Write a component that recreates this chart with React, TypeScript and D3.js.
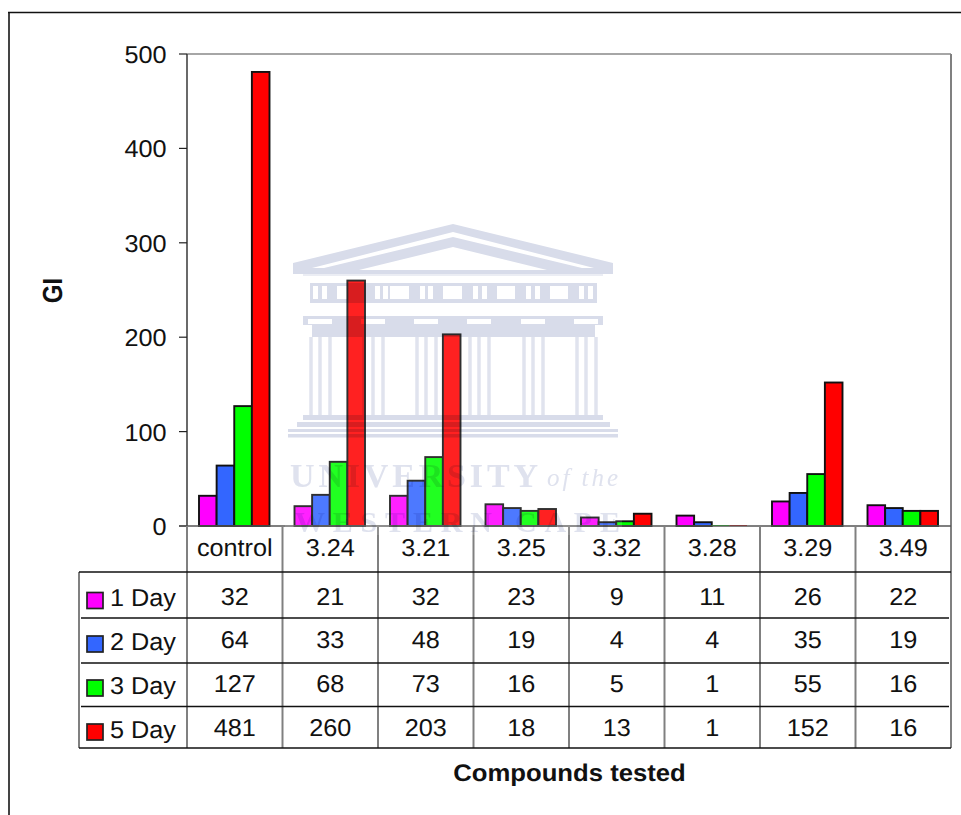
import React from "react";
import * as d3 from "d3";

const categories = ["control", "3.24", "3.21", "3.25", "3.32", "3.28", "3.29", "3.49"];
const seriesNames = ["1 Day", "2 Day", "3 Day", "5 Day"];
const seriesColors = ["#FF00FF", "#3366FF", "#00FF00", "#FF0000"];
const day1 = [32, 21, 32, 23, 9, 11, 26, 22];
const day2 = [64, 33, 48, 19, 4, 4, 35, 19];
const day3 = [127, 68, 73, 16, 5, 1, 55, 16];
const day5 = [481, 260, 203, 18, 13, 1, 152, 16];
const seriesValues = [day1, day2, day3, day5];
const yTicks = [0, 100, 200, 300, 400, 500];

const FONT = "'Liberation Sans', Arial, sans-serif";
const L = 187, R = 951, T = 54, B = 526;
const rowLines = [572, 618, 663, 706.5, 748];
const rowBase = [604.5, 648, 692, 736];
const legendBase = [606, 650, 694, 738];
const swatchTop = [592.5, 636, 680, 724];

const x0 = d3.scaleBand<string>().domain(categories).range([L, R]);
const x1 = d3.scaleBand<string>().domain(seriesNames).range([12, 82.5]);
const y = d3.scaleLinear().domain([0, 500]).range([B, T]);

const WM = "#d8dcea";
const WM_TEXT = "#dfe2ee";

function T2({ x, y: yy, children, anchor = "middle", size = 24.5, sx = 1.03, weight }: any) {
  return (
    <text
      transform={`translate(${x},${yy}) scale(${sx},1)`}
      textAnchor={anchor}
      fontFamily={FONT}
      fontSize={size}
      fontWeight={weight}
      fill="#111"
      style={{ textRendering: "geometricPrecision" }}
    >
      {children}
    </text>
  );
}

function Watermark() {
  const frieze: [number, number][] = [
    [313, 5], [322, 5], [337, 10], [375, 5], [383, 5], [390, 19], [420, 5], [428, 5],
    [443, 19], [473, 5], [482, 5], [497, 18], [526, 5], [535, 5], [550, 18], [579, 5], [588, 5],
  ];
  const columns = [309, 362, 415, 468, 522, 575];
  return (
    <g>
      <rect x={285} y={222} width={337} height={313} fill="#fff" opacity={0.13} />
      <g style={{ mixBlendMode: "multiply" }}>
        <path
          fillRule="evenodd"
          fill={WM}
          d="M293,263 L453,224 L613,263 L613,274 L293,274 Z M312,268 L453,232 L594,268 L582,268 L453,237 L324,268 Z M359,270 L453,247 L547,270 Z"
        />
        <rect x={303} y={274} width={300} height={2} fill={WM} opacity={0.5} />
        <path
          fillRule="evenodd"
          fill={WM}
          d={
            "M310,283 H597 V303 H310 Z " +
            frieze.map(([m, w]) => `M${m},286 h${w} v13 h${-w} Z`).join(" ")
          }
        />
        <path
          fillRule="evenodd"
          fill={WM}
          d={
            "M303,316 H603 V325 H595 V337 H312 V325 H303 Z " +
            columns.map((c) => `M${c - 1},319 h24 v5 h-24 Z`).join(" ")
          }
        />
        {columns.map((c) => (
          <path key={c} d={`M${c + 2},337 V415 M${c + 11},337 V415 M${c + 21},337 V415`} fill="none" stroke={WM} strokeWidth={3.5} opacity={0.8} />
        ))}
        <rect x={303} y={415} width={300} height={5} fill={WM} />
        <rect x={297} y={422} width={313} height={5} fill={WM} />
        <rect x={288} y={429} width={330} height={3} fill={WM} />
        <rect x={288} y={434} width={330} height={3.5} fill={WM} />
        <text x={290} y={487} textLength={248} lengthAdjust="spacing" fontFamily="'Liberation Serif', serif" fontSize={34} fill={WM_TEXT} fontWeight="bold">
          UNIVERSITY
        </text>
        <text x={547} y={486} textLength={71} lengthAdjust="spacing" fontFamily="'Liberation Serif', serif" fontSize={25} fontStyle="italic" fill={WM_TEXT}>
          of the
        </text>
        <text x={295} y={532} textLength={325} lengthAdjust="spacing" fontFamily="'Liberation Serif', serif" fontSize={30} fill={WM_TEXT} fontWeight="bold">
          WESTERN CAPE
        </text>
      </g>
    </g>
  );
}

export default function App() {
  return (
    <svg
      width={961}
      height={815}
      style={{ position: "absolute", left: 0, top: 0, background: "#fff" }}
    >
      <line x1={9} x2={9} y1={12} y2={815} stroke="#444" strokeWidth={2} />
      <line x1={8} x2={961} y1={12.5} y2={12.5} stroke="#111" strokeWidth={1.4} />

      <line x1={L} x2={R} y1={T} y2={T} stroke="#888" strokeWidth={1.6} />
      <line x1={R} x2={R} y1={T} y2={748} stroke="#808080" strokeWidth={2} />
      <line x1={L} x2={L} y1={T} y2={B} stroke="#444" strokeWidth={1.6} />

      {yTicks.map((t) => (
        <g key={t}>
          <line x1={179} x2={L} y1={y(t)} y2={y(t)} stroke="#222" strokeWidth={1.2} />
          <T2 x={166.5} y={y(t) + 9} anchor="end">{t}</T2>
        </g>
      ))}

      {seriesNames.map((s, si) =>
        categories.map((c, ci) => {
          const v = seriesValues[si][ci];
          const h = y(0) - y(v);
          return (
            <rect
              key={s + c}
              x={x0(c)! + x1(s)!}
              y={y(v)}
              width={x1.bandwidth()}
              height={h}
              fill={seriesColors[si]}
              stroke={h < 2 ? "none" : "#111"}
              strokeWidth={1.9}
            />
          );
        })
      )}

      <line x1={179} x2={R} y1={B} y2={B} stroke="#555" strokeWidth={1.5} />

      {categories.map((c) => (
        <line key={c} x1={x0(c)!} x2={x0(c)!} y1={B} y2={748} stroke="#808080" strokeWidth={2} />
      ))}
      <line x1={79} x2={79} y1={572} y2={748} stroke="#808080" strokeWidth={2} />
      {rowLines.map((ly, i) => (
        <line
          key={ly}
          x1={i === 0 || i === 4 ? 79 : 81}
          x2={i === 0 || i === 4 ? R : 949}
          y1={ly}
          y2={ly}
          stroke="#111"
          strokeWidth={1.3}
        />
      ))}

      {categories.map((c) => (
        <T2 key={c} x={x0(c)! + x0.bandwidth() / 2} y={556}>{c}</T2>
      ))}

      {seriesNames.map((s, si) => (
        <g key={s}>
          <rect x={87} y={swatchTop[si]} width={16} height={16} fill={seriesColors[si]} stroke="#222" strokeWidth={1.7} />
          <T2 x={110} y={legendBase[si]} anchor="start">{s}</T2>
          {categories.map((c, ci) => (
            <T2 key={c} x={x0(c)! + x0.bandwidth() / 2} y={rowBase[si]}>{seriesValues[si][ci]}</T2>
          ))}
        </g>
      ))}

      <T2 x={569.5} y={781} size={24} sx={1.07} weight="bold">Compounds tested</T2>
      <text
        transform="translate(62,290.5) rotate(-90) scale(1,1.15)"
        textAnchor="middle"
        fontFamily={FONT}
        fontSize={24}
        fontWeight="bold"
        fill="#111"
        style={{ textRendering: "geometricPrecision" }}
      >
        GI
      </text>

      <Watermark />
    </svg>
  );
}
